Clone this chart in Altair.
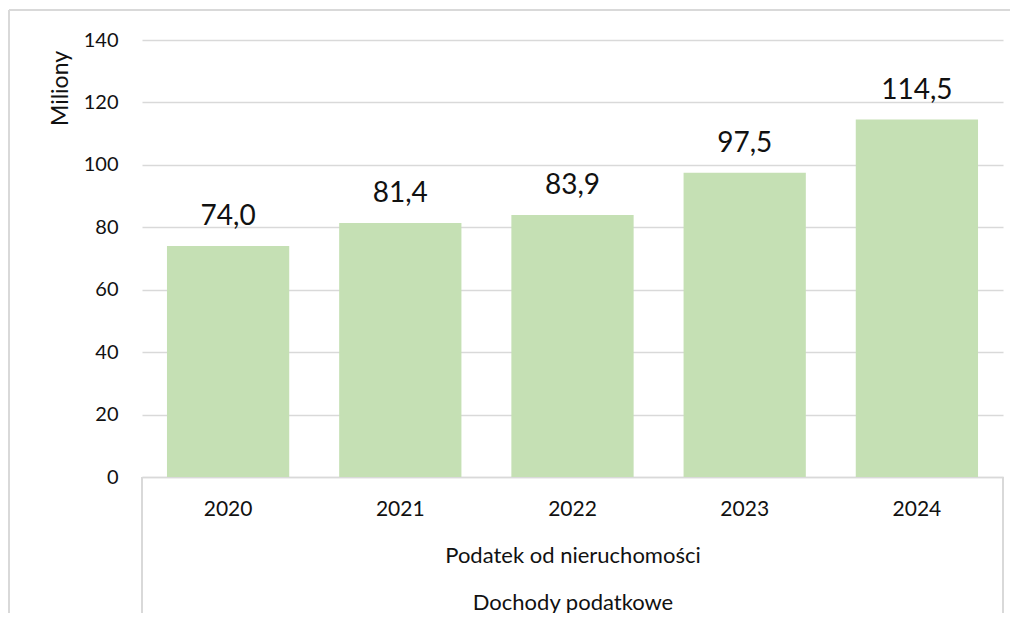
import altair as alt
import pandas as pd

years = ["2020", "2021", "2022", "2023", "2024"]
values = [74.0, 81.4, 83.9, 97.5, 114.5]
labels = [f"{v:.1f}".replace(".", ",") for v in values]
y_ticks = [0, 20, 40, 60, 80, 100, 120, 140]

df = pd.DataFrame({"rok": years, "wartosc": values, "etykieta": labels})

FONT = "Lato"
GRID = "#D9D9D9"
W, H = 861, 437

x_enc = alt.X(
    "rok:N",
    sort=years,
    scale=alt.Scale(paddingInner=0.29, paddingOuter=0.145),
    axis=alt.Axis(
        title=["Podatek od nieruchomości", "Dochody podatkowe"],
        titleFont=FONT, titleFontSize=22, titleFontWeight="normal", titleColor="#111",
        titleBaseline="top", titleY=68, titleLineHeight=47,
        labelFont=FONT, labelFontSize=21, labelColor="#111", labelPadding=21,
        labelAngle=0, ticks=False, domainColor=GRID, domainWidth=1.5, grid=False,
    ),
)

y_enc = alt.Y(
    "wartosc:Q",
    scale=alt.Scale(domain=[0, 140], nice=False),
    axis=alt.Axis(
        values=y_ticks, title="Miliony",
        titleFont=FONT, titleFontSize=23, titleFontWeight="normal", titleColor="#111",
        titleAngle=-90, titleX=-82, titleY=48, titleAlign="center", titleBaseline="middle",
        labelFont=FONT, labelFontSize=20, labelColor="#111", labelPadding=24,
        ticks=False, domain=False, grid=True, gridColor=GRID, gridWidth=1.5,
    ),
)

base = alt.Chart(df)

bars = base.mark_bar(color="#C5E0B4").encode(x=x_enc, y=y_enc)

texts = base.mark_text(
    font=FONT, fontSize=28, color="#111", baseline="bottom", dy=-15
).encode(x=alt.X("rok:N", sort=years), y="wartosc:Q", text="etykieta:N")

sep_left = base.mark_rule(color=GRID, strokeWidth=1.5, clip=False).encode(
    x=alt.value(0), y=alt.value(H), y2=alt.value(H + 140)
)
sep_right = base.mark_rule(color=GRID, strokeWidth=1.5, clip=False).encode(
    x=alt.value(W), y=alt.value(H), y2=alt.value(H + 140)
)
frame_left = base.mark_rule(color=GRID, strokeWidth=1.5, clip=False).encode(
    x=alt.value(-133), y=alt.value(-30), y2=alt.value(H + 150)
)
frame_top = base.mark_rule(color=GRID, strokeWidth=1.5, clip=False).encode(
    x=alt.value(-133), x2=alt.value(W + 10), y=alt.value(-30)
)

chart = (
    alt.layer(frame_left, frame_top, bars, texts, sep_left, sep_right)
    .properties(
        width=W, height=H,
        autosize=alt.AutoSizeParams(type="none"),
        padding={"left": 134, "top": 32, "right": 7, "bottom": 136},
        background="white",
    )
    .configure_view(stroke=None)
)

chart.save("out.html", embed_options={"renderer": "svg", "actions": False})
